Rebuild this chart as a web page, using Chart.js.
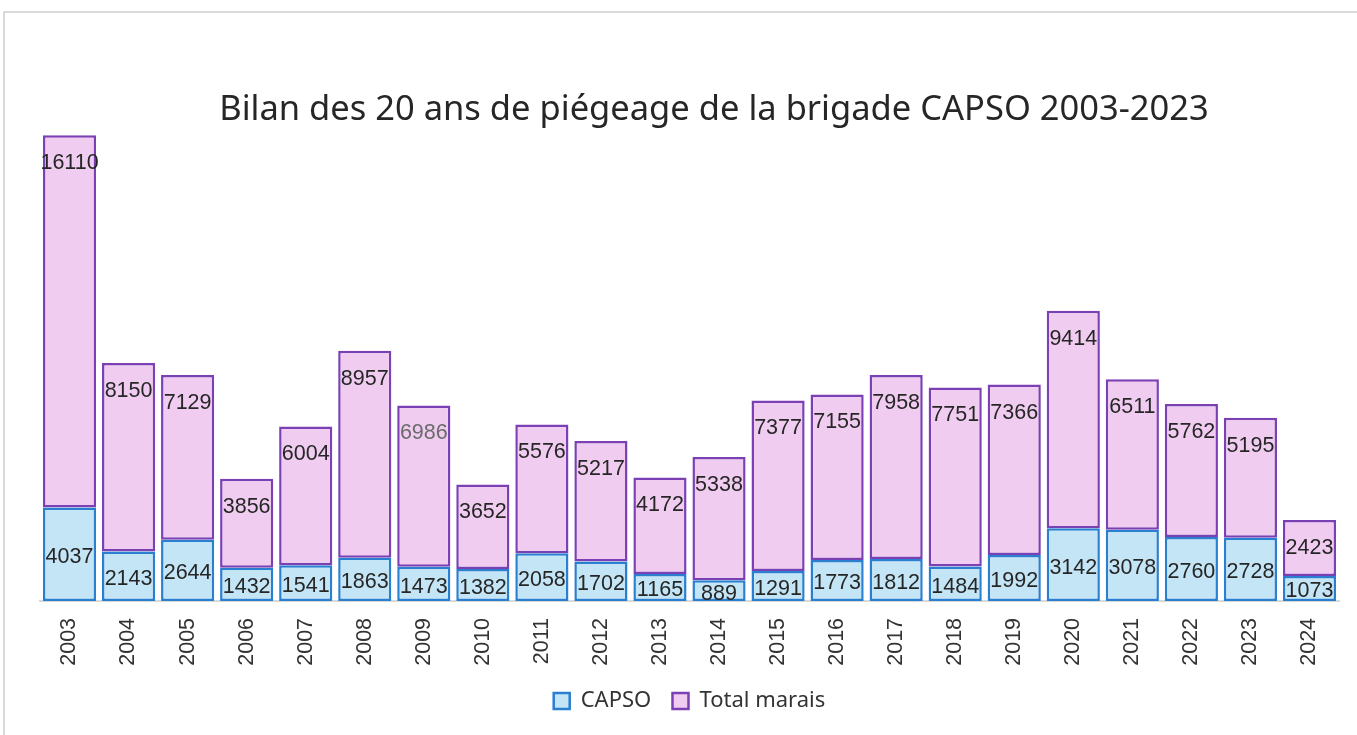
<!DOCTYPE html>
<html lang="fr">
<head>
<meta charset="utf-8">
<title>Bilan piégeage CAPSO</title>
<script src="https://cdn.jsdelivr.net/npm/chart.js@4.4.1/dist/chart.umd.min.js"></script>
<style>
  html, body { margin: 0; padding: 0; background: #fff; }
  #wrap { position: relative; width: 1357px; height: 735px; overflow: hidden; }
  #frame { position: absolute; left: 3px; top: 11px; width: 1400px; height: 800px;
           border-top: 2px solid #d9d9d9; border-left: 2px solid #d9d9d9; }
  #title { position: absolute; top: 83px; left: 0; width: 1428px; text-align: center;
           font-family: "Noto Sans", sans-serif; font-size: 34.5px; color: #262626; }
  #chart { position: absolute; left: 0; top: 0; }
</style>
</head>
<body>
<div id="wrap">
  <div id="frame"></div>
  <canvas id="chart" width="1357" height="735"></canvas>
  <div id="title">Bilan des 20 ans de piégeage de la brigade CAPSO 2003-2023</div>
</div>
<script>
const years = ["2003", "2004", "2005", "2006", "2007", "2008", "2009", "2010", "2011", "2012", "2013",
  "2014", "2015", "2016", "2017", "2018", "2019", "2020", "2021", "2022", "2023", "2024"];
const capso = [4037, 2143, 2644, 1432, 1541, 1863, 1473, 1382, 2058, 1702, 1165,
  889, 1291, 1773, 1812, 1484, 1992, 3142, 3078, 2760, 2728, 1073];
const totalMarais = [16110, 8150, 7129, 3856, 6004, 8957, 6986, 3652, 5576, 5217, 4172,
  5338, 7377, 7155, 7958, 7751, 7366, 9414, 6511, 5762, 5195, 2423];

// draws the value of each segment (CAPSO centred, Total marais near the top)
const valueLabels = {
  id: "valueLabels",
  afterDatasetsDraw(chart) {
    const ctx = chart.ctx;
    ctx.save();
    ctx.font = "21.5px 'Liberation Sans', Arial, sans-serif";
    ctx.textAlign = "center";
    ctx.textBaseline = "middle";
    chart.data.datasets.forEach((ds, i) => {
      const meta = chart.getDatasetMeta(i);
      meta.data.forEach((bar, j) => {
        const y = i === 0 ? (bar.y + bar.base) / 2 + 3 : bar.y + 28;
        ctx.fillStyle = (i === 1 && j === 6) ? "#6b6b6b" : "#262626";
        ctx.fillText(String(ds.data[j]), bar.x, y);
      });
    });
    ctx.restore();
  }
};

document.addEventListener("DOMContentLoaded", function () {
  const ctx = document.getElementById("chart").getContext("2d");
  new Chart(ctx, {
    type: "bar",
    data: {
      labels: years,
      datasets: [
        {
          label: "CAPSO",
          data: capso,
          backgroundColor: "#c3e5f5",
          borderColor: "#2a7fd0",
          borderWidth: 2.5,
          borderSkipped: false
        },
        {
          label: "Total marais",
          data: totalMarais,
          backgroundColor: "#f0cdf0",
          borderColor: "#7b40b4",
          borderWidth: 2.5,
          borderSkipped: false
        }
      ]
    },
    options: {
      responsive: false,
      animation: false,
      datasets: {
        bar: { categoryPercentage: 1, barPercentage: 0.9 }
      },
      layout: {
        padding: { left: 40, right: 18, top: 134, bottom: 13 }
      },
      scales: {
        x: {
          stacked: true,
          grid: { display: false, drawTicks: true, tickLength: 14 },
          border: { display: true, color: "#d9d9d9", width: 2 },
          ticks: {
            minRotation: 90,
            maxRotation: 90,
            padding: 3,
            color: "#333",
            font: { family: "'Liberation Sans', Arial, sans-serif", size: 21.5 }
          }
        },
        y: {
          stacked: true,
          display: false,
          min: 0,
          max: 20200
        }
      },
      plugins: {
        legend: {
          position: "bottom",
          labels: {
            boxWidth: 16,
            boxHeight: 16,
            padding: 21.25,
            color: "#333",
            font: { family: "'Noto Sans', sans-serif", size: 22 }
          }
        },
        title: { display: false },
        tooltip: { enabled: false }
      }
    },
    plugins: [valueLabels]
  });
});
</script>
</body>
</html>
